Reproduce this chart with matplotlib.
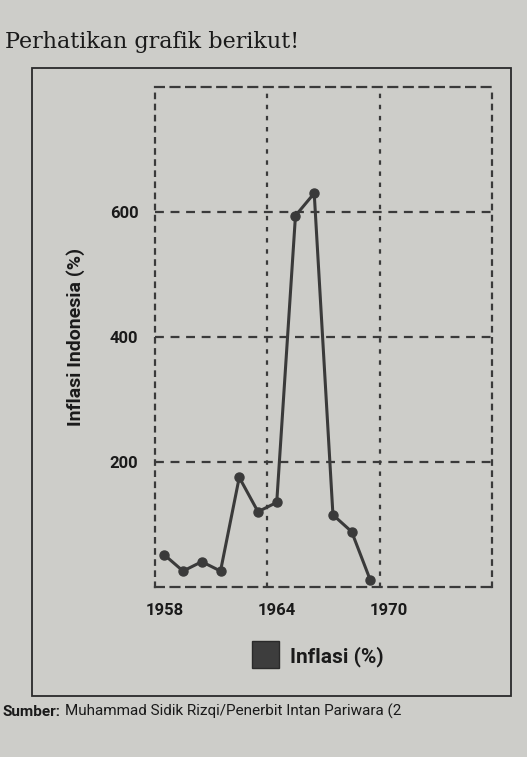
import matplotlib.pyplot as plt
from matplotlib.patches import Rectangle

# Inflasi Indonesia 1958-1969
years = [1958, 1959, 1960, 1961, 1962, 1963, 1964, 1965, 1966, 1967, 1968, 1969]
inflasi = [51, 25, 40, 25, 175, 120, 135, 594, 630, 115, 88, 10]
year_ticks = [1958, 1964, 1970]
value_ticks = [200, 400, 600]

paper = '#cdcdc9'
ink = '#3a3a3a'

fig = plt.figure(figsize=(5.27, 7.57), dpi=100, facecolor=paper)

# title above the chart box
fig.text(0.01, 0.945, 'Perhatikan grafik berikut!', family='DejaVu Serif',
         fontsize=16, color='#1a1a1a', ha='left', va='center')

# outer box of the figure in the book
fig.patches.append(Rectangle((0.06, 0.08), 0.91, 0.83, transform=fig.transFigure,
                             fill=False, edgecolor='#2a2a2a', linewidth=1.3))

ax = fig.add_axes([0.294, 0.225, 0.64, 0.66])
ax.set_facecolor(paper)

ax.plot(years, inflasi, color=ink, linewidth=2.2, marker='o', markersize=6.5,
        markerfacecolor=ink, markeredgecolor=ink, zorder=3)

ax.set_xlim(1957.5, 1975.5)
ax.set_ylim(0, 800)

# dashed grid lines
for v in value_ticks:
    ax.axhline(v, color=ink, linestyle=(0, (4, 3)), linewidth=1.6, zorder=1)
for y in year_ticks[1:]:
    ax.axvline(y - 0.5, color=ink, linestyle=(0, (2, 3)), linewidth=1.6, zorder=1)

for side in ['left', 'right', 'top', 'bottom']:
    ax.spines[side].set_linestyle((0, (2, 3)) if side in ['left', 'right'] else (0, (4, 3)))
    ax.spines[side].set_linewidth(1.6)
    ax.spines[side].set_color(ink)

ax.set_xticks(year_ticks)
ax.set_xticklabels([str(y) for y in year_ticks], fontweight='bold', fontsize=12,
                   family='Roboto', color='#1a1a1a')
ax.set_yticks(value_ticks)
ax.set_yticklabels([str(v) for v in value_ticks], fontweight='bold', fontsize=12,
                   family='Roboto', color='#1a1a1a')
ax.tick_params(length=0, pad=12)

ax.set_ylabel('Inflasi Indonesia (%)', fontweight='bold', fontsize=14,
              family='Roboto', color='#1a1a1a', labelpad=18)

# legend under the chart
fig.patches.append(Rectangle((0.478, 0.118), 0.052, 0.035, transform=fig.transFigure,
                             facecolor='#3d3d3d', edgecolor='#2a2a2a'))
fig.text(0.55, 0.133, 'Inflasi (%)', fontweight='bold', fontsize=15,
         family='Roboto', color='#1a1a1a', ha='left', va='center')

# source line: bold label followed by regular text
src_label = fig.text(0.005, 0.06, 'Sumber:', fontweight='bold', fontsize=11,
                     family='Roboto', color='#1a1a1a', ha='left', va='center')
fig.canvas.draw()
bb = src_label.get_window_extent().transformed(fig.transFigure.inverted())
fig.text(bb.x1 + 0.008, 0.06, 'Muhammad Sidik Rizqi/Penerbit Intan Pariwara (2',
         fontsize=11, family='Roboto', color='#1a1a1a', ha='left', va='center')

fig.savefig('out.png', dpi=100, facecolor=paper)
